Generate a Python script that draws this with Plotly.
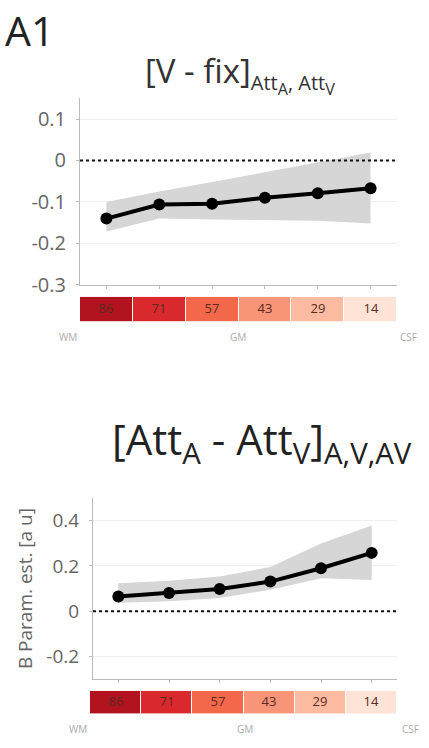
import plotly.graph_objects as go

# Cortical depth bins (WM -> CSF) and their percentage labels
depth_pos = [1, 2, 3, 4, 5, 6]
depth_pct = [86, 71, 57, 43, 29, 14]
strip_colors = ["#b3121f", "#d9292c", "#f3684b", "#f89478", "#fcbba1", "#fee3d6"]

# Panel 1: [V - fix] contrast
v_fix_mean = [-0.140, -0.106, -0.104, -0.090, -0.079, -0.067]
v_fix_upper = [-0.100, -0.075, -0.052, -0.028, -0.004, 0.019]
v_fix_lower = [-0.171, -0.140, -0.142, -0.143, -0.145, -0.152]

# Panel 2: [AttA - AttV] contrast
att_mean = [0.065, 0.080, 0.098, 0.131, 0.190, 0.258]
att_upper = [0.124, 0.135, 0.153, 0.196, 0.300, 0.379]
att_lower = [0.037, 0.044, 0.058, 0.095, 0.146, 0.138]

yticks_top = [-0.3, -0.2, -0.1, 0, 0.1]
yticks_bot = [-0.2, 0, 0.2, 0.4]

FONT = "Open Sans"
W, H = 429, 748


def py(px):
    return 1 - px / H


fig = go.Figure()

panels = [
    dict(mean=v_fix_mean, up=v_fix_upper, lo=v_fix_lower, x="x", y="y",
         sx="x2", sy="y2"),
    dict(mean=att_mean, up=att_upper, lo=att_lower, x="x3", y="y3",
         sx="x4", sy="y4"),
]

for p in panels:
    fig.add_trace(go.Scatter(x=depth_pos, y=p["up"], mode="lines",
                             line=dict(width=0), showlegend=False,
                             xaxis=p["x"], yaxis=p["y"], hoverinfo="skip"))
    fig.add_trace(go.Scatter(x=depth_pos, y=p["lo"], mode="lines",
                             line=dict(width=0), fill="tonexty",
                             fillcolor="#d6d6d6", showlegend=False,
                             xaxis=p["x"], yaxis=p["y"], hoverinfo="skip"))
    fig.add_trace(go.Scatter(x=[0.5, 6.5], y=[0, 0], mode="lines",
                             line=dict(color="#111", width=2, dash="dot"),
                             showlegend=False, xaxis=p["x"], yaxis=p["y"]))
    fig.add_trace(go.Scatter(x=depth_pos, y=p["mean"], mode="lines+markers",
                             line=dict(color="black", width=4),
                             marker=dict(color="black", size=12),
                             showlegend=False, xaxis=p["x"], yaxis=p["y"]))
    # depth colour strip
    fig.add_trace(go.Heatmap(
        x=depth_pos, y=[0], z=[depth_pos],
        colorscale=[[i / 5, c] for i, c in enumerate(strip_colors)],
        showscale=False, text=[[str(v) for v in depth_pct]],
        texttemplate="%{text}",
        textfont=dict(family=FONT, size=13, color="#5a2a20"),
        xgap=1, xaxis=p["sx"], yaxis=p["sy"], hoverinfo="skip"))

axis_common = dict(showline=True, linecolor="#bbbbbb", linewidth=1,
                   zeroline=False, mirror=False)

fig.update_layout(
    width=W, height=H, margin=dict(l=0, r=0, t=0, b=0),
    plot_bgcolor="white", paper_bgcolor="white",
    font=dict(family=FONT, color="#555"),
    xaxis=dict(domain=[80 / W, 397 / W], range=[0.5, 6.5], showgrid=False,
               tickvals=depth_pos, ticks="outside", ticklen=3,
               tickcolor="#bbb", showticklabels=False, anchor="y",
               **axis_common),
    yaxis=dict(domain=[py(290), py(100)], range=[-0.3, 0.15],
               tickvals=yticks_top, ticktext=["-0.3", "-0.2", "-0.1", "0", "0.1"],
               showgrid=True, gridcolor="#f0f0f0", ticks="outside", ticklen=3,
               tickcolor="#bbb", tickfont=dict(size=20, color="#666"),
               ticklabelstandoff=6, anchor="x", **axis_common),
    xaxis2=dict(domain=[80 / W, 397 / W], range=[0.5, 6.5], visible=False,
                anchor="y2"),
    yaxis2=dict(domain=[py(327), py(302)], range=[-0.5, 0.5], visible=False,
                anchor="x2"),
    xaxis3=dict(domain=[93 / W, 397 / W], range=[0.5, 6.5], showgrid=False,
                tickvals=depth_pos, ticks="outside", ticklen=3,
                tickcolor="#bbb", showticklabels=False, anchor="y3",
                **axis_common),
    yaxis3=dict(domain=[py(691), py(507)], range=[-0.3, 0.5],
                tickvals=yticks_bot, ticktext=["-0.2", "0", "0.2", "0.4"],
                showgrid=True, gridcolor="#f0f0f0", ticks="outside", ticklen=3,
                tickcolor="#bbb", tickfont=dict(size=19, color="#666"),
                ticklabelstandoff=6,
                title=dict(text="B Param. est. [a u]", standoff=8,
                           font=dict(size=19, color="#666")),
                anchor="x3", **axis_common),
    xaxis4=dict(domain=[90 / W, 397 / W], range=[0.5, 6.5], visible=False,
                anchor="y4"),
    yaxis4=dict(domain=[py(726), py(703)], range=[-0.5, 0.5], visible=False,
                anchor="x4"),
)

annotations = [
    dict(text="A1", x=3 / W, y=py(31), xanchor="left", yanchor="middle",
         font=dict(size=41, color="#222")),
    dict(text="[V - fix]<sub><span style='font-size:20px'>Att</span>"
              "<sub>A</sub><span style='font-size:20px'>, Att</span>"
              "<sub>V</sub></sub>",
         x=240 / W, y=py(75), xanchor="center", yanchor="middle",
         font=dict(size=33, color="#333")),
    dict(text="[Att<sub>A</sub> - Att<sub>V</sub>]<sub>A,V,AV</sub>",
         x=262 / W, y=py(449), xanchor="center", yanchor="middle",
         font=dict(size=42, color="#222")),
]
for yl, xs in [(343, (68, 238, 408)), (742, (78, 245, 410))]:
    for lab, xx in zip(["WM", "GM", "CSF"], xs):
        annotations.append(dict(text=lab, x=xx / W, y=py(yl), xanchor="center",
                                yanchor="middle",
                                font=dict(size=10, color="#aaa")))
for a in annotations:
    a.update(xref="paper", yref="paper", showarrow=False)
fig.update_layout(annotations=annotations)

fig.write_html("out.html")
